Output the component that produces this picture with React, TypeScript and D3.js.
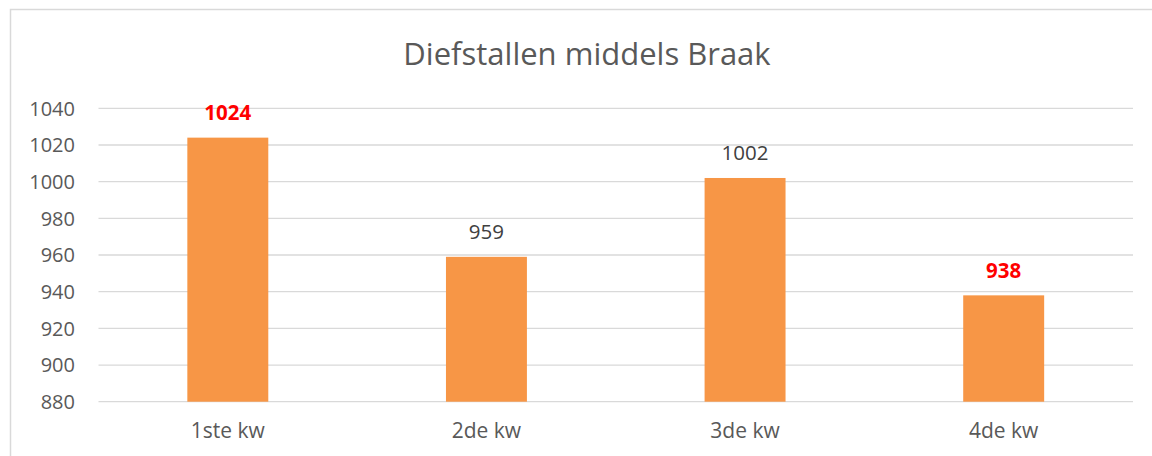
import React from "react";
import { scaleBand, scaleLinear } from "d3";

// chart data
const categories = ["1ste kw", "2de kw", "3de kw", "4de kw"];
const values = [1024, 959, 1002, 938];
const highlighted = [true, false, false, true];
const yTicks = [880, 900, 920, 940, 960, 980, 1000, 1020, 1040];
const title = "Diefstallen middels Braak";

const W = 1152;
const H = 456;
const font = "'Open Sans', 'Noto Sans', sans-serif";

function App() {
    const left = 98.5;
    const right = 1133;
    const top = 108.3;
    const bottom = 401.7;

    const x = scaleBand<string>()
        .domain(categories)
        .range([left, right]);

    const y = scaleLinear()
        .domain([880, 1040])
        .range([bottom, top]);

    const barW = x.bandwidth() * 0.313;

    return (
        <svg width={W} height={H} style={{ position: "absolute", left: 0, top: 0, background: "#fff" }}>
            {/* chart frame (runs off the right and bottom) */}
            <rect x={10.5} y={9.5} width={W} height={H} fill="#fff" stroke="#d9d9d9" strokeWidth={1.5} />

            <text x={587} y={65} textAnchor="middle" fontFamily={font} fontSize={31} fill="#595959">
                {title}
            </text>

            {/* gridlines + y axis labels */}
            {yTicks.map(t => (
                <g key={t}>
                    <line x1={left} x2={right} y1={y(t)} y2={y(t)} stroke="#d9d9d9" strokeWidth={1.3} />
                    <text x={75} y={y(t)} dy="0.36em" textAnchor="end" fontFamily={font} fontSize={20} fill="#595959">
                        {t}
                    </text>
                </g>
            ))}

            {/* bars */}
            {categories.map((c, i) => {
                const cx = (x(c) as number) + x.bandwidth() / 2;
                return (
                    <g key={c}>
                        <rect x={cx - barW / 2} y={y(values[i])} width={barW} height={bottom - y(values[i])} fill="#f79646" />
                        <text x={cx} y={y(values[i]) - 17.5} textAnchor="middle" fontFamily={font}
                              fontSize={20.5} fontWeight={highlighted[i] ? 700 : 400}
                              fill={highlighted[i] ? "#ff0000" : "#404040"}>
                            {values[i]}
                        </text>
                        <text x={cx} y={438} textAnchor="middle" fontFamily={font} fontSize={21} fill="#595959">
                            {c}
                        </text>
                    </g>
                );
            })}
        </svg>
    );
}

export default App;
